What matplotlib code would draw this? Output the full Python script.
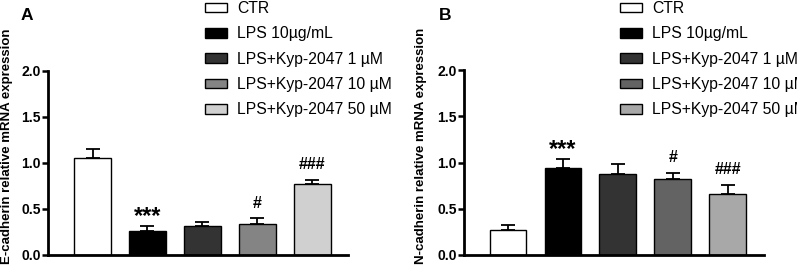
import matplotlib
matplotlib.use("Agg")
import matplotlib.pyplot as plt
from matplotlib.patches import Patch

plt.rcParams['font.family'] = ['Liberation Sans', 'DejaVu Sans']

groups = ["CTR", "LPS 10µg/mL", "LPS+Kyp-2047 1 µM", "LPS+Kyp-2047 10 µM", "LPS+Kyp-2047 50 µM"]

ecad_mean = [1.05, 0.265, 0.31, 0.34, 0.775]
ecad_err = [0.105, 0.05, 0.05, 0.06, 0.04]
ecad_sig = ["", "***", "", "#", "###"]
ecad_colors = ["#ffffff", "#000000", "#333333", "#848484", "#d0d0d0"]

ncad_mean = [0.27, 0.94, 0.88, 0.82, 0.655]
ncad_err = [0.05, 0.1, 0.105, 0.065, 0.1]
ncad_sig = ["", "***", "", "#", "###"]
ncad_colors = ["#ffffff", "#000000", "#333333", "#636363", "#a8a8a8"]

yticks = [0.0, 0.5, 1.0, 1.5, 2.0]

W, H = 797, 272
fig = plt.figure(figsize=(W / 100, H / 100), dpi=100)


def panel(rect, means, errs, sigs, colors, ylabel, letter, letter_xy, ylabel_x, leg_x):
    ax = fig.add_axes(rect)
    x = list(range(len(means)))
    ax.bar(x, means, width=0.67, color=colors, edgecolor="black", linewidth=1.0, zorder=2)
    ax.errorbar(x, means, yerr=[[0] * len(errs), errs], fmt="none", ecolor="black",
                elinewidth=1.3, capsize=5, capthick=1.3, zorder=1)
    for xi, m, e, s in zip(x, means, errs, sigs):
        if s:
            if "*" in s:
                ax.text(xi, m + e + 0.10, s, ha="center", va="center", fontsize=17,
                        fontweight="bold")
            else:
                ax.text(xi, m + e + 0.165, s, ha="center", va="center", fontsize=11.5,
                        fontweight="bold")
    ax.set_xlim(-0.81, 4.65)
    ax.set_ylim(0, 2.0)
    ax.set_yticks(yticks)
    ax.set_yticklabels([f"{v:.1f}" for v in yticks], fontsize=10, fontweight="bold")
    ax.set_xticks([])
    for sp in ["top", "right"]:
        ax.spines[sp].set_visible(False)
    for sp in ["left", "bottom"]:
        ax.spines[sp].set_linewidth(2)
    ax.tick_params(axis="y", length=4, width=1.8, pad=1)
    fig.text(ylabel_x / W, 1 - 146 / H, ylabel, rotation=90, ha="center", va="center",
             fontsize=9.5, fontweight="bold")
    fig.text(letter_xy[0] / W, 1 - letter_xy[1] / H, letter, ha="center", va="center",
             fontsize=12.5, fontweight="bold")
    handles = [Patch(facecolor=c, edgecolor="black", linewidth=1.0) for c in colors]
    fig.legend(handles, groups, loc="upper left", bbox_to_anchor=(leg_x / W, 1.0 - 1 / H),
               frameon=False, fontsize=11.3, handlelength=1.4, handleheight=0.55,
               handletextpad=0.65, labelspacing=0.66, borderpad=0, borderaxespad=0)
    return ax


panel([48 / W, 1 - 255 / H, 300 / W, 184 / H], ecad_mean, ecad_err, ecad_sig, ecad_colors,
      "E-cadherin relative mRNA expression", "A", (27, 15), 7, 205)
panel([463.5 / W, 1 - 255 / H, 300 / W, 185 / H], ncad_mean, ncad_err, ncad_sig, ncad_colors,
      "N-cadherin relative mRNA expression", "B", (445, 15), 421, 620)

fig.savefig("out.png", dpi=100)
